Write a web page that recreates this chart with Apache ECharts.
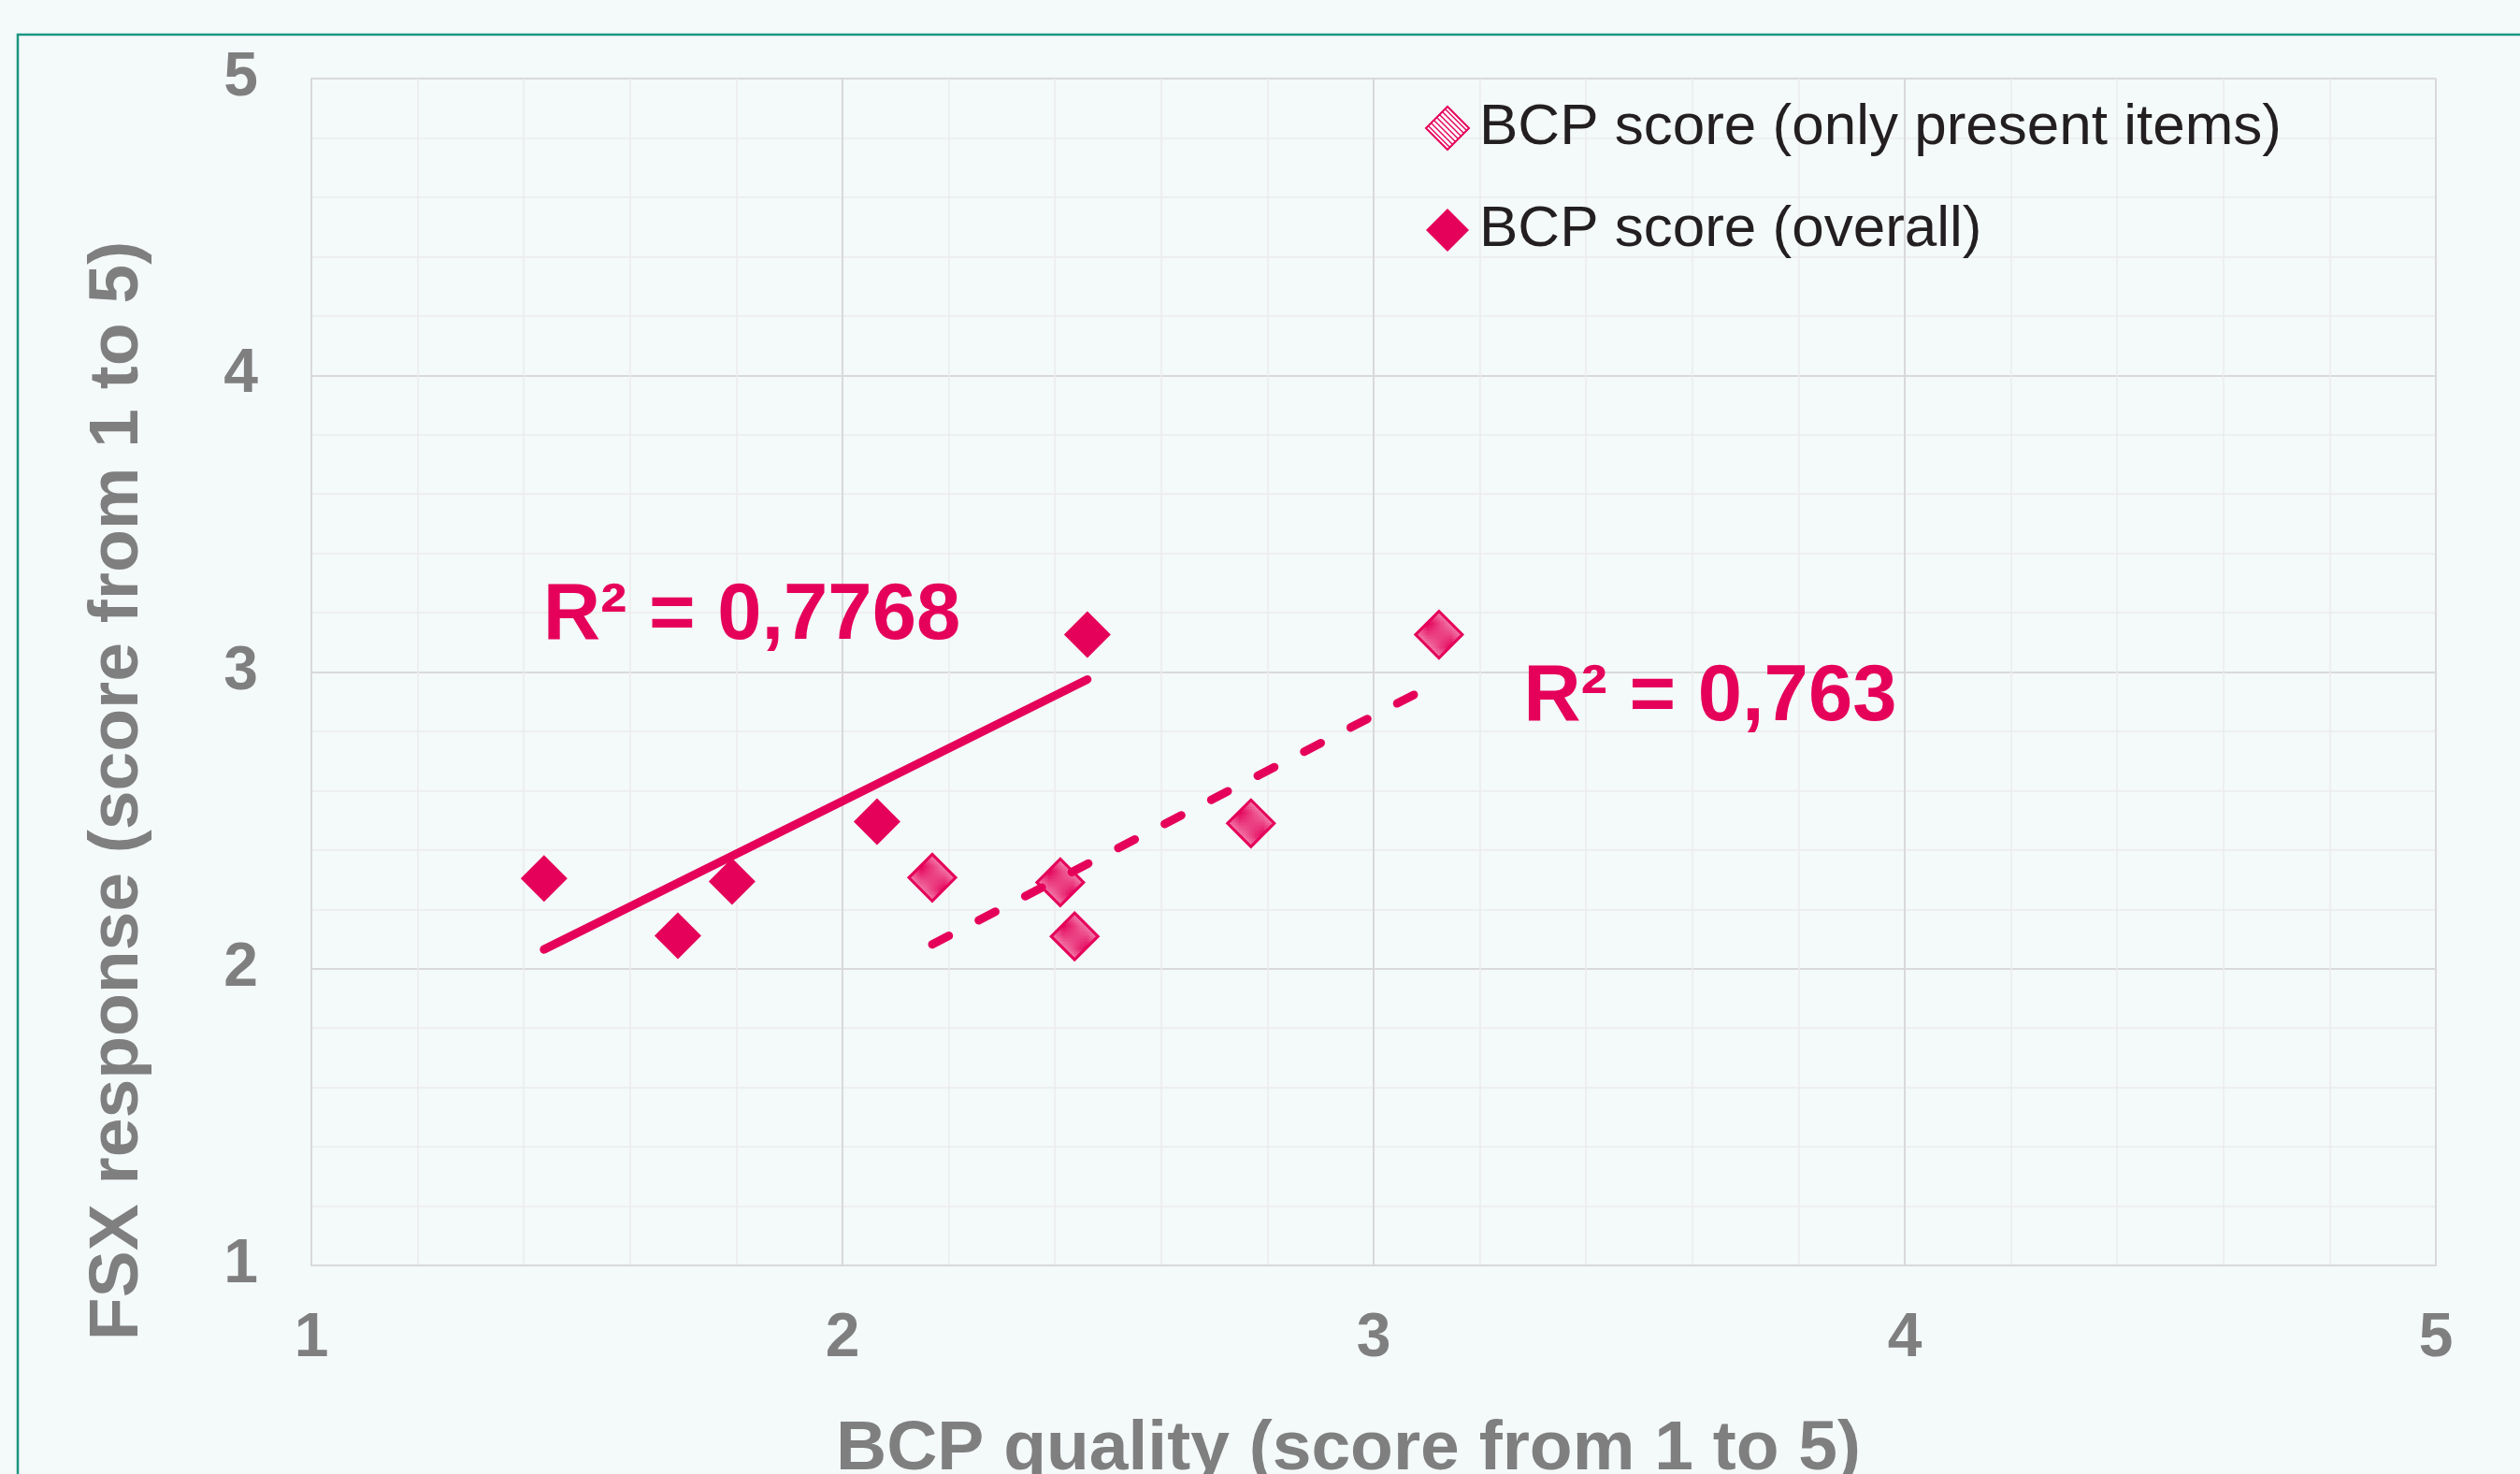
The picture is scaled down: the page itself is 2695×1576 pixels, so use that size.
<!DOCTYPE html>
<html>
<head>
<meta charset="utf-8">
<script src="https://cdn.jsdelivr.net/npm/echarts@6/dist/echarts.min.js"></script>
<style>
html,body{margin:0;padding:0;background:#f4f9f9;}
#chart{width:2695px;height:1576px;}
</style>
</head>
<body>
<div id="chart"></div>
<script>
// ---- data ----
const seriesNames = ['BCP score (only present items)', 'BCP score (overall)'];
const presentX = [2.169, 2.410, 2.437, 2.769, 3.123];
const presentY = [2.307, 2.291, 2.109, 2.490, 3.126];
const overallX = [1.438, 1.690, 1.792, 2.065, 2.461];
const overallY = [2.304, 2.111, 2.294, 2.496, 3.126];
// trend line endpoints (as drawn)
const overallTrendX = [1.438, 2.461];
const overallTrendY = [2.065, 2.975];
const presentTrendX = [2.169, 3.123];
const presentTrendY = [2.082, 2.967];
const r2Labels = ['R² = 0,7768', 'R² = 0,763'];
const axisTicks = [1, 2, 3, 4, 5];
const xTitle = 'BCP quality (score from 1 to 5)';
const yTitle = 'FSX response (score from 1 to 5)';

const PINK = '#e5005a';
const GRAY = '#7f7f7f';

function zip(xs, ys) { return xs.map((x, i) => [x, ys[i]]); }

// hatch pattern
const pc = document.createElement('canvas');
pc.width = 6; pc.height = 6;
const g = pc.getContext('2d');
g.fillStyle = '#ffffff';
g.fillRect(0, 0, 6, 6);
g.strokeStyle = PINK;
g.lineWidth = 1.4;
g.beginPath();
g.moveTo(-1, -1); g.lineTo(7, 7);
g.moveTo(-1, 5); g.lineTo(1, 7);
g.moveTo(5, -1); g.lineTo(7, 1);
g.stroke();

const chart = echarts.init(document.getElementById('chart'), null, {renderer: 'canvas'});

const axisCommon = {
  type: 'value', min: axisTicks[0], max: axisTicks[axisTicks.length - 1], interval: 1,
  axisLine: {show: true, lineStyle: {color: '#d9d9d9', width: 2}},
  axisTick: {show: false},
  splitLine: {show: true, lineStyle: {color: '#d9d9d9', width: 2}},
  minorTick: {show: false, splitNumber: 5},
  minorSplitLine: {show: true, lineStyle: {color: '#ececec', width: 1.5}},
  nameLocation: 'middle',
  nameTextStyle: {fontFamily: 'Liberation Sans, Arial', fontWeight: 'bold', fontSize: 75, color: GRAY},
  axisLabel: {fontFamily: 'Liberation Sans, Arial', fontWeight: 'bold', fontSize: 66, color: GRAY}
};

const option = {
  backgroundColor: '#f4f9f9',
  animation: false,
  grid: {left: 333, right: 90, top: 84, bottom: 223, containLabel: false, outerBoundsMode: 'none'},
  xAxis: Object.assign({}, axisCommon, {
    name: xTitle, nameGap: 160,
    nameTextStyle: Object.assign({}, axisCommon.nameTextStyle, {padding: [0, 54, 0, 0]}),
    axisLabel: Object.assign({}, axisCommon.axisLabel, {margin: 46})
  }),
  yAxis: Object.assign({}, axisCommon, {
    name: yTitle, nameGap: 169,
    nameTextStyle: Object.assign({}, axisCommon.nameTextStyle, {padding: [0, 254, 0, 0]}),
    axisLabel: Object.assign({}, axisCommon.axisLabel, {margin: 57})
  }),
  legend: {
    data: seriesNames,
    orient: 'vertical',
    left: 1519, top: 101,
    itemWidth: 46, itemHeight: 46, itemGap: 47,
    textStyle: {fontFamily: 'Liberation Sans, Arial', fontSize: 62, color: '#231f20', padding: [0, 0, 0, 6]}
  },
  series: [
    {
      name: seriesNames[0], type: 'scatter', symbol: 'diamond', symbolSize: 50, z: 2,
      itemStyle: {color: {image: pc, repeat: 'repeat'}, borderColor: PINK, borderWidth: 3, opacity: 1},
      data: zip(presentX, presentY)
    },
    {
      name: seriesNames[1], type: 'scatter', symbol: 'diamond', symbolSize: 50, z: 2,
      itemStyle: {color: PINK, opacity: 1},
      data: zip(overallX, overallY)
    },
    {
      name: 'trend overall', type: 'line', showSymbol: false, symbol: 'none', z: 3, silent: true,
      lineStyle: {color: PINK, width: 9, cap: 'round'},
      data: zip(overallTrendX, overallTrendY)
    },
    {
      name: 'trend present', type: 'line', showSymbol: false, symbol: 'none', z: 3, silent: true,
      lineStyle: {color: PINK, width: 9, type: [20, 36], cap: 'round'},
      data: zip(presentTrendX, presentTrendY)
    }
  ]
};
chart.setOption(option);

// R² labels anchored in data coordinates
const r2Anchors = [[1.436, 3.187], [3.282, 2.912]];
const p1 = chart.convertToPixel({gridIndex: 0}, r2Anchors[0]);
const p2 = chart.convertToPixel({gridIndex: 0}, r2Anchors[1]);
chart.setOption({
  graphic: [
    {type: 'rect', shape: {x: 19, y: 37, width: 2800, height: 1700}, style: {fill: null, stroke: '#1a9682', lineWidth: 2.5}, z: 0, silent: true},
    {type: 'text', x: p1[0], y: p1[1], z: 10, style: {text: r2Labels[0], fill: PINK, fontFamily: 'Liberation Sans, Arial', fontWeight: 'bold', fontSize: 85, align: 'left', verticalAlign: 'middle'}},
    {type: 'text', x: p2[0], y: p2[1], z: 10, style: {text: r2Labels[1], fill: PINK, fontFamily: 'Liberation Sans, Arial', fontWeight: 'bold', fontSize: 85, align: 'left', verticalAlign: 'middle'}}
  ]
});
</script>
</body>
</html>
